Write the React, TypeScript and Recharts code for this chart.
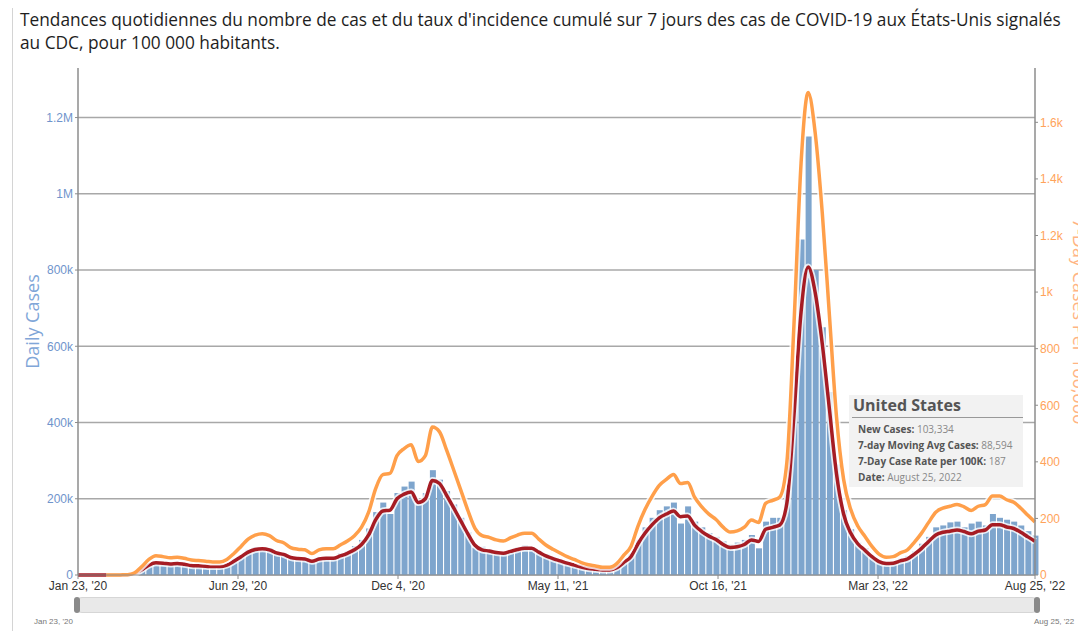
import React from 'react';
import { ComposedChart, Bar, Line, XAxis, YAxis, CartesianGrid, Brush } from 'recharts';

// weekly readings, first point Jan 23 '20, last Aug 25 '22
const dailyCasesK = [
  0, 0, 0, 0, 0, 0, 0.3, 0.8, 6, 18,
  30, 35, 30, 33, 29, 30, 26, 27, 22, 25,
  23, 30, 42, 52, 66, 73, 72, 70, 60, 57,
  48, 47, 44, 32, 47, 48, 46, 57, 62, 76,
  92, 122, 165, 190, 160, 215, 232, 245, 185, 215,
  275, 250, 220, 185, 150, 112, 72, 74, 67, 62,
  58, 66, 72, 78, 73, 63, 55, 47, 38, 33,
  22, 18, 17, 13, 14, 11, 22, 36, 56, 92,
  125, 150, 170, 180, 190, 135, 180, 140, 125, 110,
  100, 88, 80, 85, 92, 105, 70, 140, 150, 150,
  230, 560, 880, 1150, 800, 650, 480, 290, 170, 120,
  85, 70, 48, 36, 32, 34, 43, 50, 62, 82,
  100, 125, 130, 138, 140, 125, 135, 140, 130, 160,
  150, 145, 140, 130, 115, 103.334,
];

const movingAvgK = [
  0, 0, 0, 0, 0, 0, 0.2, 0.5, 4, 14,
  26, 32, 31, 29, 30, 28, 25, 24, 23, 22,
  22, 26, 36, 48, 60, 67, 69, 66, 58, 54,
  46, 43, 42, 36, 42, 44, 44, 50, 57, 66,
  80, 105, 145, 168, 170, 200, 212, 218, 190, 200,
  248, 240, 209, 176, 142, 108, 78, 66, 63, 59,
  57, 62, 67, 70, 70, 60, 50, 43, 37, 31,
  26, 21, 17, 15, 13, 13, 19, 33, 48, 82,
  110, 132, 150, 160, 168, 153, 155, 130, 114, 102,
  93, 80, 72, 74, 80, 92, 88, 120, 125, 131,
  189, 420, 690, 808, 740, 605, 435, 265, 160, 110,
  82, 65, 48, 35, 30, 31, 37, 42, 55, 70,
  88, 105, 112, 115, 118, 114, 108, 115, 118, 132,
  132, 126, 122, 112, 100, 88.594,
];

const ratePer100k = [
  null, null, null, null, 0, 0, 0.4, 1, 8, 30,
  55, 68, 65, 61, 63, 59, 53, 51, 49, 46,
  46, 55, 76, 101, 127, 141, 146, 139, 122, 114,
  97, 91, 89, 76, 89, 93, 93, 106, 120, 139,
  169, 222, 306, 355, 359, 422, 447, 460, 401, 422,
  523, 506, 441, 371, 300, 228, 165, 139, 133, 124,
  120, 131, 141, 148, 148, 127, 106, 91, 78, 65,
  55, 44, 36, 32, 27, 27, 40, 70, 101, 173,
  232, 279, 317, 338, 355, 323, 327, 274, 241, 215,
  196, 169, 152, 156, 169, 194, 186, 253, 264, 276,
  399, 886, 1456, 1705, 1561, 1277, 918, 559, 338, 232,
  173, 137, 101, 74, 63, 65, 78, 89, 116, 148,
  186, 222, 236, 243, 249, 241, 228, 243, 249, 279,
  279, 266, 257, 236, 211, 187,
];

const tickDays = [0, 158, 316, 474, 632, 790, 945];
const tickLabels = ["Jan 23, '20", "Jun 29, '20", "Dec 4, '20", "May 11, '21", "Oct 16, '21", "Mar 23, '22", "Aug 25, '22"];
const casesTicks = [0, 200000, 400000, 600000, 800000, 1000000, 1200000];
const rateTicks = [0, 200, 400, 600, 800, 1000, 1200, 1400, 1600];

const data = dailyCasesK.map((c, i) => ({
  day: i * 7,
  cases: Math.round(c * 1000),
  avg: Math.round(movingAvgK[i] * 1000),
  rate: ratePer100k[i],
}));

const last = data[data.length - 1];

const fmtCases = (v: number) => {
  if (v === 0) return '0';
  if (v >= 1000000) return `${v / 1000000}M`;
  return `${v / 1000}k`;
};
const fmtRate = (v: number) => (v >= 1000 ? `${v / 1000}k` : `${v}`);
const fmtTick = (v: number) => tickLabels[tickDays.indexOf(v)] ?? '';

const Traveller = (props: any) => {
  const { x, y, width, height } = props;
  return <rect x={x} y={y} width={width} height={height} rx={width / 2} fill="#8a8a8a" />;
};

const tipLabel: React.CSSProperties = { fontWeight: 700, color: '#555' };
const tipValue: React.CSSProperties = { color: '#888' };

export default function App() {
  return (
    <div style={{ position: 'relative', width: 1086, height: 639, margin: -8, background: '#fff', overflow: 'hidden' }}>
      <div style={{ position: 'absolute', left: 0, top: 0, width: 1086, height: 2, background: '#d4d4d4' }} />
      <div style={{ position: 'absolute', left: 12, top: 6, width: 1, height: 633, background: '#d4d4d4' }} />
      <div
        style={{
          position: 'absolute', left: 20, top: 8, fontFamily: '"Open Sans", sans-serif',
          fontSize: 17.3, lineHeight: '23px', color: '#1e1e1e', whiteSpace: 'nowrap',
        }}
      >
        Tendances quotidiennes du nombre de cas et du taux d'incidence cumulé sur 7 jours des cas de COVID-19 aux États-Unis signalés
        <br />
        au CDC, pour 100 000 habitants.
      </div>

      <div
        style={{
          position: 'absolute', left: 74, top: 597, width: 966, height: 16, boxSizing: 'border-box',
          borderRadius: 8, background: '#e9e9e9', border: '1px solid #d6d6d6',
        }}
      />

      <div style={{ position: 'absolute', left: 0, top: 0 }}>
        <ComposedChart width={1086} height={639} data={data} margin={{ top: 68, right: 0, bottom: 26, left: 18 }}>
          <CartesianGrid
            yAxisId="left"
            vertical={false}
            horizontalValues={casesTicks}
            stroke="#a8a8a8"
            strokeWidth={1.5}
          />
          <XAxis
            dataKey="day"
            type="number"
            domain={[0, 945]}
            ticks={tickDays}
            interval={0}
            tickFormatter={fmtTick}
            height={22}
            tick={{ fill: '#333', fontSize: 12, fontFamily: '"Liberation Sans", Arial' }}
            axisLine={{ stroke: '#8c8c8c' }}
            tickLine={{ stroke: '#8c8c8c' }}
            tickSize={4}
          />
          <YAxis
            yAxisId="left"
            domain={[0, 1330000]}
            ticks={casesTicks}
            tickFormatter={fmtCases}
            width={60}
            tick={{ fill: '#6f94cc', fontSize: 12, fontFamily: '"Liberation Sans", Arial' }}
            axisLine={{ stroke: '#8c8c8c', strokeWidth: 1.5 }}
            tickLine={{ stroke: '#8c8c8c' }}
            tickSize={3}
            label={{
              value: 'Daily Cases', angle: -90, position: 'center', dx: -15,
              fill: '#80a6d8', fontSize: 18, fontFamily: '"Open Sans", sans-serif',
            }}
          />
          <YAxis
            yAxisId="right"
            orientation="right"
            domain={[0, 1792]}
            ticks={rateTicks}
            tickFormatter={fmtRate}
            width={51}
            tick={{ fill: '#ffa35a', fontSize: 12, fontFamily: '"Liberation Sans", Arial' }}
            axisLine={{ stroke: '#8c8c8c', strokeWidth: 1.5 }}
            tickLine={{ stroke: '#8c8c8c' }}
            tickSize={3}
            label={{
              value: '7-Day Cases Per 100,000', angle: 90, position: 'center', dx: 19,
              fill: '#ffb583', fontSize: 18, fontFamily: '"Open Sans", sans-serif',
            }}
          />
          <Bar yAxisId="left" dataKey="cases" fill="#7ea5cd" barSize={6} isAnimationActive={false} />
          <Line yAxisId="left" dataKey="avg" type="monotone" stroke="#ffffff" strokeOpacity={0.8} strokeWidth={7} dot={false} activeDot={false} isAnimationActive={false} />
          <Line yAxisId="left" dataKey="avg" type="monotone" stroke="#a61c24" strokeWidth={3.5} dot={false} isAnimationActive={false} />
          <Line yAxisId="right" dataKey="rate" type="monotone" stroke="#ffffff" strokeOpacity={0.8} strokeWidth={7} dot={false} activeDot={false} isAnimationActive={false} />
          <Line yAxisId="right" dataKey="rate" type="monotone" stroke="#ff9f4a" strokeWidth={3.5} dot={false} isAnimationActive={false} />
          <Brush
            dataKey="day"
            x={74}
            y={597}
            width={966}
            height={16}
            travellerWidth={6}
            traveller={Traveller}
            stroke="transparent"
            fill="transparent"
            tickFormatter={fmtTick}
          />
        </ComposedChart>
      </div>

      <div style={{ position: 'absolute', left: 34, top: 617, fontSize: 8, color: '#777', fontFamily: '"Liberation Sans", Arial' }}>
        Jan 23, '20
      </div>
      <div style={{ position: 'absolute', left: 1034, top: 617, fontSize: 8, color: '#777', fontFamily: '"Liberation Sans", Arial' }}>
        Aug 25, '22
      </div>

      <div
        style={{
          position: 'absolute', left: 849, top: 395, width: 174, height: 92, background: '#f2f2f2',
          fontFamily: '"Open Sans", sans-serif', boxSizing: 'border-box',
        }}
      >
        <div style={{ position: 'absolute', left: 4, top: 0, fontSize: 16, fontWeight: 700, color: '#555', lineHeight: '21px' }}>
          United States
        </div>
        <div style={{ position: 'absolute', left: 3, top: 22, width: 171, height: 1, background: '#999' }} />
        <div style={{ position: 'absolute', left: 9, top: 26, fontSize: 10, lineHeight: '16px', whiteSpace: 'nowrap' }}>
          <div><span style={tipLabel}>New Cases:</span> <span style={tipValue}>{last.cases.toLocaleString('en-US')}</span></div>
          <div><span style={tipLabel}>7-day Moving Avg Cases:</span> <span style={tipValue}>{last.avg.toLocaleString('en-US')}</span></div>
          <div><span style={tipLabel}>7-Day Case Rate per 100K:</span> <span style={tipValue}>{last.rate}</span></div>
          <div><span style={tipLabel}>Date:</span> <span style={tipValue}>August 25, 2022</span></div>
        </div>
      </div>
    </div>
  );
}
